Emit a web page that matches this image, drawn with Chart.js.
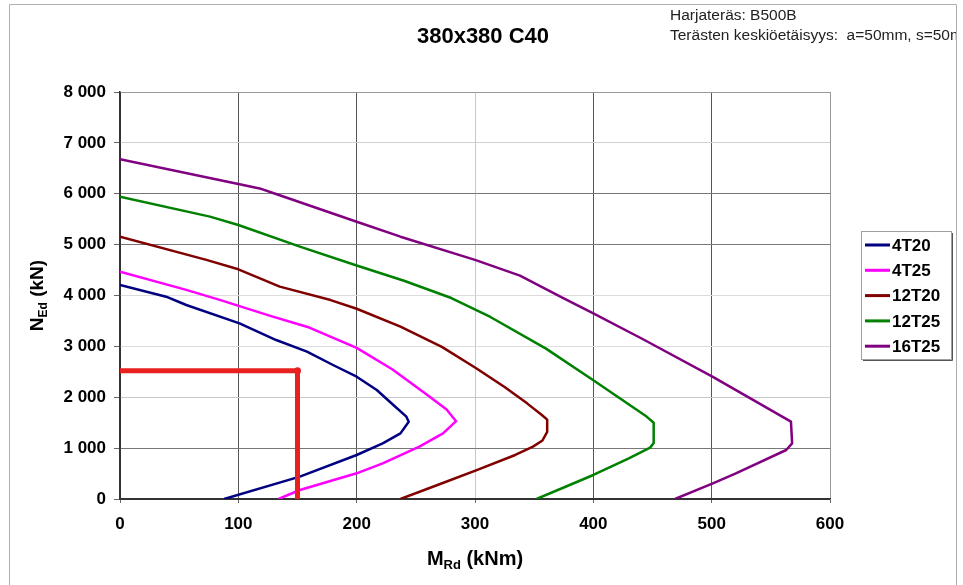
<!DOCTYPE html>
<html>
<head>
<meta charset="utf-8">
<script src="https://cdn.jsdelivr.net/npm/chart.js@4/dist/chart.umd.min.js"></script>
<style>
    html, body { margin: 0; padding: 0; background: #fff; }
    #wrap { width: 963px; height: 585px; position: relative; }
</style>
</head>
<body>
<div id="wrap"><canvas id="chart" width="963" height="585"></canvas></div>
<script>
const FONT = '"Liberation Sans", Arial, sans-serif';

// M_Rd (kNm) and N_Ed (kN)
const m4T20 = [0, 39, 56, 101, 132, 158, 180, 200, 217, 231, 242, 244, 237, 222, 200, 152, 88];
const n4T20 = [4206, 3977, 3813, 3453, 3125, 2896, 2634, 2404, 2143, 1848, 1618, 1520, 1290, 1094, 865, 439, 0];

const m4T25 = [0, 56, 85, 127, 160, 200, 230, 260, 276, 284, 273, 253, 222, 200, 152, 134];
const n4T25 = [4470, 4110, 3910, 3600, 3370, 2970, 2551, 2040, 1760, 1530, 1290, 1030, 700, 505, 177, 0];

const m12T20 = [0, 73, 100, 135, 178, 200, 237, 272, 301, 325, 344, 357, 361, 361, 357, 349, 334, 302, 270, 237];
const n12T20 = [5155, 4700, 4515, 4175, 3910, 3740, 3390, 2990, 2570, 2200, 1880, 1640, 1560, 1320, 1150, 1030, 865, 572, 290, 0];

const m12T25 = [0, 76, 100, 152, 200, 240, 280, 313, 360, 400, 445, 451, 451, 448, 430, 400, 376, 352];
const n12T25 = [5940, 5550, 5386, 4960, 4590, 4290, 3950, 3578, 2955, 2335, 1620, 1500, 1100, 1010, 800, 472, 236, 0];

const m16T25 = [0, 100, 118, 130, 200, 237, 300, 338, 375, 400, 442, 501, 567, 568, 563, 520, 501, 469];
const n16T25 = [6680, 6190, 6105, 6010, 5450, 5156, 4700, 4390, 3944, 3650, 3140, 2400, 1520, 1094, 963, 500, 308, 0];

// red design point lines
const refM = [0, 150, 150];
const refN = [2520, 2520, 0];

const seriesLabels = ['4T20', '4T25', '12T20', '12T25', '16T25'];
const seriesColors = ['#000080', '#ff00ff', '#800000', '#008000', '#800080'];

const xTicks = [0, 100, 200, 300, 400, 500, 600];
const yTicks = [0, 1000, 2000, 3000, 4000, 5000, 6000, 7000, 8000];

const toPoints = (xs, ys) => xs.map((x, i) => ({ x, y: ys[i] }));
const fmt = (v) => String(v).replace(/\B(?=(\d{3})+(?!\d))/g, ' ');

const curves = [
    [m4T20, n4T20], [m4T25, n4T25], [m12T20, n12T20], [m12T25, n12T25], [m16T25, n16T25],
];

const datasets = curves.map(([xs, ys], i) => ({
    label: seriesLabels[i],
    data: toPoints(xs, ys),
    borderColor: seriesColors[i],
    backgroundColor: seriesColors[i],
    borderWidth: 2.5,
    borderJoinStyle: 'round',
    showLine: true,
    pointRadius: 0,
    tension: 0,
}));

datasets.push({
    label: '',
    data: toPoints(refM, refN),
    borderColor: '#e8211f',
    backgroundColor: '#e8211f',
    borderWidth: 5,
    showLine: true,
    pointRadius: [0, 3.5, 0],
    pointBorderWidth: 0,
    tension: 0,
    order: -1,
});

const vGrid = { 0: '#333', 100: '#555', 200: '#555', 300: '#c8c8c8', 400: '#555', 500: '#555', 600: '#999' };
const hGrid = { 0: '#333', 1000: '#777', 2000: '#c8c8c8', 3000: '#dcdcdc', 4000: '#dcdcdc', 5000: '#777', 6000: '#777', 7000: '#d0d0d0', 8000: '#999' };

const decorations = {
    id: 'decorations',
    beforeDraw(chart) {
        const { ctx } = chart;
        ctx.save();
        ctx.strokeStyle = '#b0b0b0';
        ctx.lineWidth = 1;
        ctx.beginPath();
        ctx.moveTo(9.5, 585);
        ctx.lineTo(9.5, 4.5);
        ctx.lineTo(956.5, 4.5);
        ctx.lineTo(956.5, 585);
        ctx.stroke();
        ctx.restore();
    },
    afterDraw(chart) {
        const { ctx, chartArea } = chart;
        ctx.save();
        ctx.fillStyle = '#000';

        // title
        ctx.font = `bold 22px ${FONT}`;
        ctx.textAlign = 'center';
        ctx.textBaseline = 'middle';
        ctx.fillText('380x380 C40', 483, 37);

        // notes top right, clipped by the frame
        ctx.save();
        ctx.beginPath();
        ctx.rect(0, 0, 956, 585);
        ctx.clip();
        ctx.font = `15.5px ${FONT}`;
        ctx.textAlign = 'left';
        ctx.fillStyle = '#222';
        ctx.fillText('Harjateräs: B500B', 670, 16);
        ctx.fillText('Terästen keskiöetäisyys:  a=50mm, s=50mm', 670, 36);
        ctx.restore();

        // axis titles with subscripts
        const drawSub = (parts, x, y) => {
            let w = 0;
            parts.forEach(([t, size]) => {
                ctx.font = `bold ${size}px ${FONT}`;
                w += ctx.measureText(t).width;
            });
            let cx = x - w / 2;
            parts.forEach(([t, size, dy]) => {
                ctx.font = `bold ${size}px ${FONT}`;
                ctx.fillText(t, cx, y + dy);
                cx += ctx.measureText(t).width;
            });
        };
        ctx.fillStyle = '#000';
        ctx.textAlign = 'left';
        ctx.textBaseline = 'alphabetic';
        drawSub([['M', 20, 0], ['Rd', 13, 4], [' (kNm)', 20, 0]], (chartArea.left + chartArea.right) / 2, 565);

        ctx.save();
        ctx.translate(43, (chartArea.top + chartArea.bottom) / 2);
        ctx.rotate(-Math.PI / 2);
        drawSub([['N', 19, 0], ['Ed', 12, 4], [' (kN)', 19, 0]], 0, 0);
        ctx.restore();

        // legend
        const items = chart.data.datasets.filter((d) => d.label);
        const bx = 861, by = 231, bw = 90, bh = 128;
        ctx.fillStyle = '#fff';
        ctx.fillRect(bx, by, bw, bh);
        ctx.strokeStyle = '#555';
        ctx.lineWidth = 1;
        ctx.beginPath();
        ctx.moveTo(bx + bw + 1.5, by + 2);
        ctx.lineTo(bx + bw + 1.5, by + bh + 1.5);
        ctx.lineTo(bx + 2, by + bh + 1.5);
        ctx.stroke();
        ctx.strokeStyle = '#a0a0a0';
        ctx.strokeRect(bx + 0.5, by + 0.5, bw, bh);
        ctx.font = `bold 17px ${FONT}`;
        ctx.textBaseline = 'middle';
        items.forEach((d, i) => {
            const y = 245 + i * 25.3;
            ctx.strokeStyle = d.borderColor;
            ctx.lineWidth = 3;
            ctx.beginPath();
            ctx.moveTo(865, y);
            ctx.lineTo(890, y);
            ctx.stroke();
            ctx.fillStyle = '#000';
            ctx.fillText(d.label, 892, y + 1);
        });
        ctx.restore();
    },
};

new Chart(document.getElementById('chart'), {
    type: 'scatter',
    data: { datasets },
    options: {
        responsive: false,
        animation: false,
        layout: { padding: { left: 0, top: 92, right: 133, bottom: 0 } },
        plugins: {
            legend: { display: false },
            tooltip: { enabled: false },
            title: { display: false },
        },
        scales: {
            x: {
                type: 'linear',
                min: 0,
                max: 600,
                afterFit(scale) { scale.height = 86; },
                afterBuildTicks(scale) { scale.ticks = xTicks.map((v) => ({ value: v })); },
                ticks: {
                    color: '#000',
                    font: { family: FONT, size: 17, weight: 'bold' },
                    padding: 11,
                    maxRotation: 0,
                    callback: (v) => fmt(v),
                },
                grid: {
                    color: (c) => vGrid[c.tick.value] || '#999',
                    tickColor: '#666',
                    tickLength: 4,
                    lineWidth: 1,
                },
                border: { color: '#333', width: 1.5 },
            },
            y: {
                type: 'linear',
                min: 0,
                max: 8000,
                afterFit(scale) { scale.width = 120; },
                afterBuildTicks(scale) { scale.ticks = yTicks.map((v) => ({ value: v })); },
                ticks: {
                    color: '#000',
                    font: { family: FONT, size: 17, weight: 'bold' },
                    padding: 8,
                    callback: (v) => fmt(v),
                },
                grid: {
                    color: (c) => hGrid[c.tick.value] || '#999',
                    tickColor: '#666',
                    tickLength: 6,
                    lineWidth: 1,
                },
                border: { color: '#333', width: 1.5 },
            },
        },
    },
    plugins: [decorations],
});
</script>
</body>
</html>
